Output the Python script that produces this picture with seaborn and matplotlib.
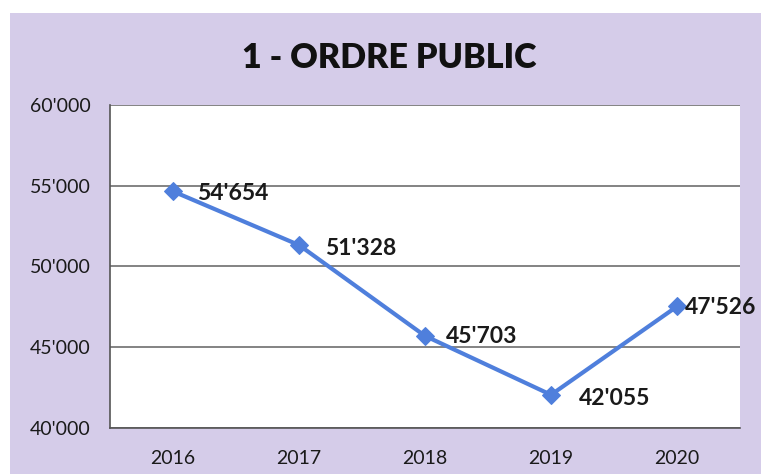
import matplotlib
matplotlib.use("Agg")
import matplotlib.pyplot as plt
import seaborn as sns
import pandas as pd
from matplotlib.patches import Rectangle
from matplotlib.ticker import FuncFormatter, FixedLocator

years = ["2016", "2017", "2018", "2019", "2020"]
values = [54654, 51328, 45703, 42055, 47526]
labels = ["54'654", "51'328", "45'703", "42'055", "47'526"]
title = "1 - ORDRE PUBLIC"

sns.set_theme(style="white")
plt.rcParams['font.family'] = ['Lato', 'DejaVu Sans']

W, H = 761, 474
fig = plt.figure(figsize=(W / 100, H / 100), dpi=100)
fig.patch.set_facecolor("white")
fig.patches.append(Rectangle((10 / W, 0), 1, 1 - 13 / H, transform=fig.transFigure,
                             facecolor="#d5cce9", edgecolor="none", zorder=-10))

ax = fig.add_axes([110 / W, 1 - 428 / H, (740 - 110) / W, (428 - 105) / H])
ax.set_facecolor("white")

df = pd.DataFrame({"year": years, "value": values})
line_color = "#4f7fdc"
sns.lineplot(data=df, x="year", y="value", ax=ax, color=line_color, linewidth=3,
             marker="D", markersize=9, markeredgecolor=line_color, sort=False)

ax.set_xlim(-0.5, 4.5)
ax.set_ylim(40000, 60000)
ax.set_yticks(range(40000, 60001, 5000))
ax.yaxis.set_major_formatter(FuncFormatter(lambda v, p: f"{int(v):,}".replace(",", "'")))
ax.grid(axis="y", color="#6e6e6e", linewidth=1.2)
ax.set_axisbelow(True)
ax.xaxis.set_minor_locator(FixedLocator([i - 0.5 for i in range(len(years) + 1)]))
ax.tick_params(axis="x", which="major", length=0, pad=16, labelsize=14, colors="#1a1a1a")
ax.tick_params(axis="x", which="minor", length=6, width=1.2, color="#555555", direction="out")
ax.tick_params(axis="y", which="major", length=8, width=1.2, color="#555555", direction="out",
               labelsize=14, pad=6, colors="#1a1a1a")
ax.set_xlabel("")
ax.set_ylabel("")
for s in ["top", "right"]:
    ax.spines[s].set_visible(False)
for s in ["left", "bottom"]:
    ax.spines[s].set_color("#555555")
    ax.spines[s].set_linewidth(1.2)

offsets = [(24, -2), (26, -3), (21, -1), (28, -4), (8, -1)]
for i, (v, lab) in enumerate(zip(values, labels)):
    ax.annotate(lab, (i, v), xytext=offsets[i], textcoords="offset pixels",
                ha="left", va="center", fontsize=16.5, fontweight="bold", color="#1a1a1a")

fig.text(389 / W, 1 - 58 / H, title, ha="center", va="center", fontsize=24.5,
         fontweight="heavy", color="#111111")

fig.savefig("out.png", dpi=100)
